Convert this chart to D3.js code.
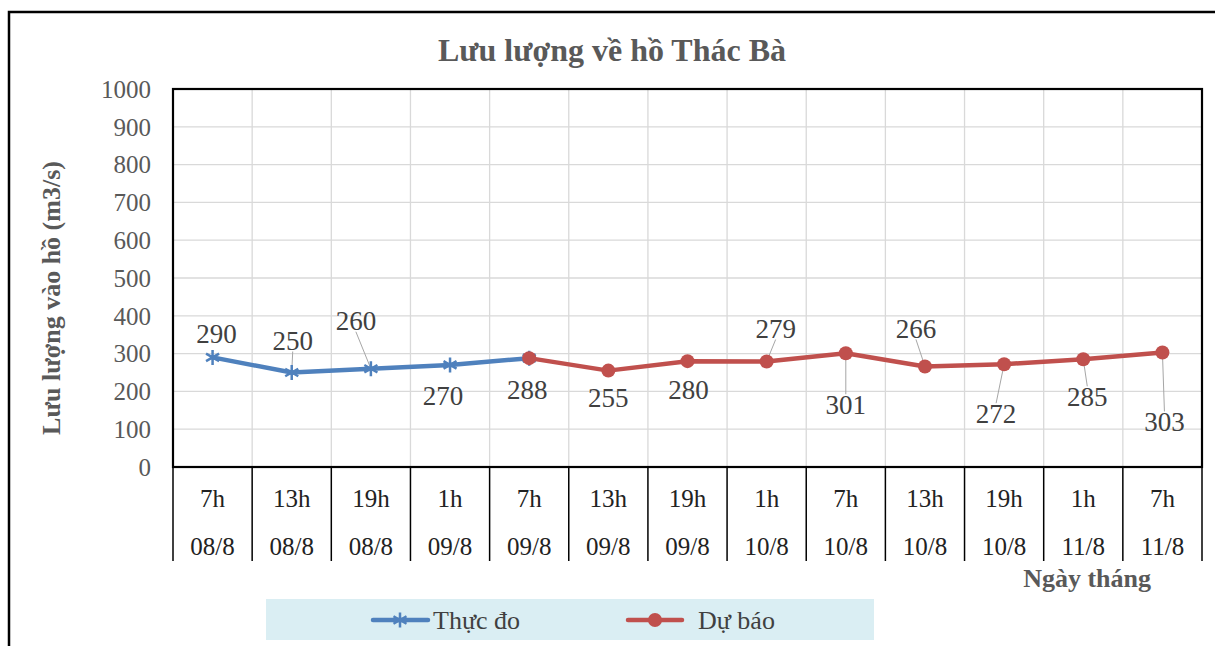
<!DOCTYPE html>
<html><head><meta charset="utf-8">
<script src="https://cdn.jsdelivr.net/npm/d3@7"></script>
<style>body{margin:0;background:#fff}svg{display:block}</style>
</head><body>
<svg id="c" width="1215" height="646"></svg>
<script>
const hours = ["7h","13h","19h","1h","7h","13h","19h","1h","7h","13h","19h","1h","7h"];
const dates = ["08/8","08/8","08/8","09/8","09/8","09/8","09/8","10/8","10/8","10/8","10/8","11/8","11/8"];
const observedIdx = [0,1,2,3,4];
const observed = [290,250,260,270,288];
const forecastIdx = [4,5,6,7,8,9,10,11,12];
const forecast = [288,255,280,279,301,266,272,285,303];
const yTicks = [0,100,200,300,400,500,600,700,800,900,1000];
// label layout (pixel offsets from point) and leader flags
const obsLabelOff = [[4,-24,0],[1,-32,1],[-15,-48,1],[-7,31,0],[-2,31,0]];
const fcLabelOff = [null,[0,27,0],[1,28,0],[9,-33,1],[0,51,1],[-9,-38,1],[-8,49,1],[4,37,1],[2,69,1]];

const svg = d3.select("#c");
const L=173,R=1202,T=89,B=467;
const x = d3.scaleBand().domain(d3.range(hours.length)).range([L,R]).padding(0);
const y = d3.scaleLinear().domain([0,1000]).range([B,T]);
const serif = "'Liberation Serif','Times New Roman',serif";
const BLUE="#4f81bd", RED="#c0504d";

// outer border
svg.append("rect").attr("x",9).attr("y",12).attr("width",1240).attr("height",700)
  .attr("fill","none").attr("stroke","#000").attr("stroke-width",2.5);

// title
svg.append("text").attr("x",612).attr("y",61).attr("text-anchor","middle")
  .attr("font-family",serif).attr("font-weight","bold").attr("font-size",32).attr("fill","#595959")
  .text("Lưu lượng về hồ Thác Bà");

// gridlines
const g = svg.append("g");
g.selectAll(".hg").data(yTicks.slice(1)).join("line")
  .attr("x1",L).attr("x2",R).attr("y1",d=>y(d)).attr("y2",d=>y(d))
  .attr("stroke","#d9d9d9").attr("stroke-width",1.3);
g.selectAll(".vg").data(d3.range(1,hours.length)).join("line")
  .attr("x1",d=>x(d)).attr("x2",d=>x(d)).attr("y1",T).attr("y2",B)
  .attr("stroke","#d9d9d9").attr("stroke-width",1.3);

// y tick labels
svg.selectAll(".yt").data(yTicks).join("text")
  .attr("x",151).attr("y",d=>y(d)).attr("dy","0.35em").attr("text-anchor","end")
  .attr("font-family",serif).attr("font-size",25).attr("fill","#595959").text(d=>d);

// y axis title
svg.append("text").attr("transform","translate(60,298) rotate(-90)").attr("text-anchor","middle")
  .attr("font-family",serif).attr("font-weight","bold").attr("font-size",26).attr("fill","#595959")
  .text("Lưu lượng vào hồ (m3/s)");

// category axis separators
svg.selectAll(".cs").data(d3.range(0,hours.length+1)).join("line")
  .attr("x1",d=>d<hours.length?x(d):R).attr("x2",d=>d<hours.length?x(d):R)
  .attr("y1",B).attr("y2",561).attr("stroke","#000").attr("stroke-width",1.5);
svg.selectAll(".hl").data(hours).join("text")
  .attr("x",(d,i)=>x(i)+x.bandwidth()/2).attr("y",498).attr("dy","0.35em").attr("text-anchor","middle")
  .attr("font-family",serif).attr("font-size",25).attr("fill","#222").text(d=>d);
svg.selectAll(".dl").data(dates).join("text")
  .attr("x",(d,i)=>x(i)+x.bandwidth()/2).attr("y",546).attr("dy","0.35em").attr("text-anchor","middle")
  .attr("font-family",serif).attr("font-size",25).attr("fill","#222").text(d=>d);

svg.append("text").attr("x",1151).attr("y",587).attr("text-anchor","end")
  .attr("font-family",serif).attr("font-weight","bold").attr("font-size",26).attr("fill","#595959")
  .text("Ngày tháng");

// plot border
svg.append("rect").attr("x",L).attr("y",T).attr("width",R-L).attr("height",B-T)
  .attr("fill","none").attr("stroke","#000").attr("stroke-width",2.2);

const cx = i => x(i)+x.bandwidth()/2;
function labels(idx, vals, offs){
  idx.forEach((ix,k)=>{
    const o = offs[k]; if(!o) return;
    const px=cx(ix), py=y(vals[k]);
    const lx=px+o[0], ly=py+o[1];
    if(o[2]){
      const ey = o[1]>0 ? ly-10 : ly+11;
      svg.append("line").attr("x1",px).attr("y1",py).attr("x2",lx).attr("y2",ey)
        .attr("stroke","#a6a6a6").attr("stroke-width",1);
    }
    svg.append("text").attr("x",lx).attr("y",ly).attr("dy","0.35em").attr("text-anchor","middle")
      .attr("font-family",serif).attr("font-size",27).attr("fill","#404040").text(vals[k]);
  });
}
labels(observedIdx, observed, obsLabelOff);
labels(forecastIdx, forecast, fcLabelOff);

const line = d3.line().x(d=>cx(d[0])).y(d=>y(d[1]));
const obsData = observedIdx.map((ix,k)=>[ix,observed[k]]);
const fcData = forecastIdx.map((ix,k)=>[ix,forecast[k]]);

function star(s){ // asterisk marker
  return `M0,${-s}L0,${s}M${-s*0.87},${-s*0.5}L${s*0.87},${s*0.5}M${-s*0.87},${s*0.5}L${s*0.87},${-s*0.5}`;
}
svg.append("path").attr("d",line(obsData)).attr("fill","none").attr("stroke",BLUE).attr("stroke-width",4.5).attr("stroke-linejoin","round");
svg.selectAll(".om").data(obsData).join("path")
  .attr("transform",d=>`translate(${cx(d[0])},${y(d[1])})`).attr("d",star(7.5))
  .attr("stroke",BLUE).attr("stroke-width",2.5).attr("fill","none");

svg.append("path").attr("d",line(fcData)).attr("fill","none").attr("stroke",RED).attr("stroke-width",4.5).attr("stroke-linejoin","round");
svg.selectAll(".fm").data(fcData).join("circle")
  .attr("cx",d=>cx(d[0])).attr("cy",d=>y(d[1])).attr("r",7).attr("fill",RED);

// legend
const lg = svg.append("g");
lg.append("rect").attr("x",266).attr("y",599).attr("width",608).attr("height",41).attr("fill","#daeef3");
lg.append("line").attr("x1",373).attr("x2",428).attr("y1",620).attr("y2",620).attr("stroke",BLUE).attr("stroke-width",4.5).attr("stroke-linecap","round");
lg.append("path").attr("transform","translate(400,620)").attr("d",star(7.5)).attr("stroke",BLUE).attr("stroke-width",2.5);
lg.append("text").attr("x",433).attr("y",620).attr("dy","0.35em").attr("font-family",serif).attr("font-size",26).attr("fill","#404040").text("Thực đo");
lg.append("line").attr("x1",628).attr("x2",682).attr("y1",620).attr("y2",620).attr("stroke",RED).attr("stroke-width",4.5).attr("stroke-linecap","round");
lg.append("circle").attr("cx",655).attr("cy",620).attr("r",7).attr("fill",RED);
lg.append("text").attr("x",698).attr("y",620).attr("dy","0.35em").attr("font-family",serif).attr("font-size",26).attr("fill","#404040").text("Dự báo");
</script>
</body></html>
